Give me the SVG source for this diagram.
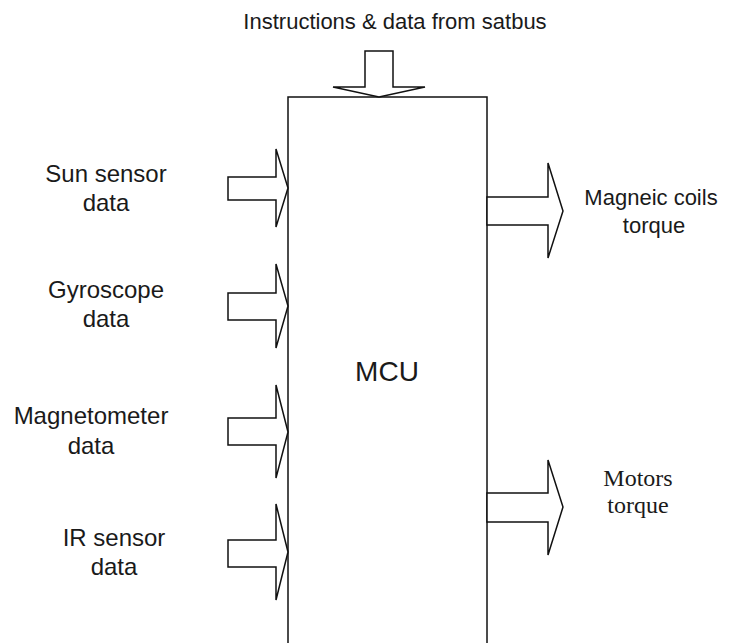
<svg xmlns="http://www.w3.org/2000/svg" width="739" height="643" viewBox="0 0 739 643">
<style>
.shape{fill:#fff;stroke:#111;stroke-width:1.5;stroke-linejoin:miter}
.lbl{font-family:"Liberation Sans",Arial,sans-serif;font-size:24px;fill:#1a1a1a;text-anchor:middle}
.ser{font-family:"Liberation Serif","Times New Roman",serif;font-size:24px;fill:#1a1a1a;text-anchor:middle}
</style>
<rect width="739" height="643" fill="#fff"/>
<g id="mcu">
<rect class="shape" x="288" y="97" width="199" height="560"/>
<text class="lbl" x="387" y="381" style="font-size:28px">MCU</text>
</g>
<g id="connectors">
<polygon id="arrow-satbus" class="shape" points="365,51 393,51 393,87 425,87 379,97 333,87 365,87"/>
<polygon id="arrow-sun" class="shape" points="228,177 276,177 276,149 288,188 276,227 276,200 228,200"/>
<polygon id="arrow-gyro" class="shape" points="228,293 276,293 276,264 288,306 276,348 276,320 228,320"/>
<polygon id="arrow-mag" class="shape" points="228,418 276,418 276,385 288,432 276,478 276,445 228,445"/>
<polygon id="arrow-ir" class="shape" points="228,540 276,540 276,504 288,552 276,600 276,567 228,567"/>
<polygon id="arrow-coils" class="shape" points="487,197 548,197 548,163 563,211 548,258 548,225 487,225"/>
<polygon id="arrow-motors" class="shape" points="487,493 548,493 548,460 563,507 548,555 548,522 487,522"/>
</g>
<g id="satbus">
<text class="lbl" x="395" y="29" style="font-size:22px">Instructions &amp; data from satbus</text>
</g>
<g id="sun-sensor">
<text class="lbl" x="106" y="182">Sun sensor</text>
<text class="lbl" x="106" y="211">data</text>
</g>
<g id="gyroscope">
<text class="lbl" x="106" y="298">Gyroscope</text>
<text class="lbl" x="106" y="327">data</text>
</g>
<g id="magnetometer">
<text class="lbl" x="91" y="424">Magnetometer</text>
<text class="lbl" x="91" y="454">data</text>
</g>
<g id="ir-sensor">
<text class="lbl" x="114" y="546">IR sensor</text>
<text class="lbl" x="114" y="575">data</text>
</g>
<g id="magnetic-coils">
<text class="lbl" x="651" y="205" style="font-size:22px">Magneic coils</text>
<text class="lbl" x="654" y="233" style="font-size:22px">torque</text>
</g>
<g id="motors">
<text class="ser" x="638" y="486">Motors</text>
<text class="ser" x="638" y="513">torque</text>
</g>
</svg>
